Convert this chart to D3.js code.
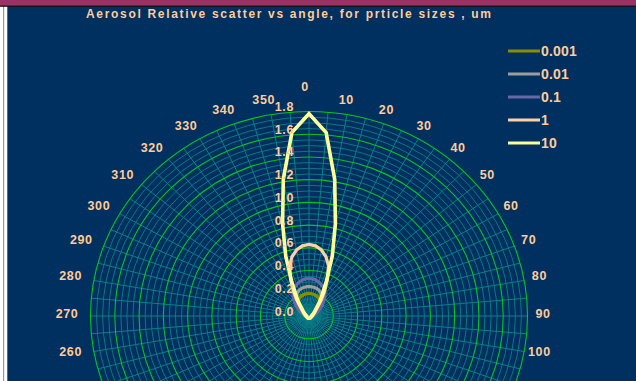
<!DOCTYPE html>
<html>
<head>
<meta charset="utf-8">
<script src="https://cdn.jsdelivr.net/npm/d3@7"></script>
<style>
  html, body { margin: 0; padding: 0; background: #ffffff; }
  svg { display: block; }
  text { font-family: "Liberation Sans", Arial, sans-serif; }
</style>
</head>
<body>
<svg id="chart" width="636" height="381"></svg>
<script>
// Scattering angle (degrees, 0 = forward) at which each series is sampled
const angles = [0, 5, 10, 15, 20, 25, 30, 35, 40, 50, 60, 70, 80, 90, 100, 120, 140, 160,
                180, 200, 220, 240, 260, 270, 280, 290, 300, 310, 320, 325, 330, 335, 340, 345, 350, 355];

// Relative scatter for each particle size (um)
const size0001 = [0.20, 0.198, 0.195, 0.19, 0.185, 0.178, 0.17, 0.157, 0.14, 0.10, 0.07, 0.04, 0.02, 0.015, 0.012, 0.01, 0.01, 0.01,
                  0.01, 0.01, 0.01, 0.01, 0.012, 0.015, 0.02, 0.04, 0.07, 0.10, 0.14, 0.157, 0.17, 0.178, 0.185, 0.19, 0.195, 0.198];
const size001  = [0.26, 0.258, 0.255, 0.25, 0.24, 0.226, 0.21, 0.19, 0.17, 0.12, 0.08, 0.05, 0.03, 0.02, 0.015, 0.012, 0.012, 0.012,
                  0.012, 0.012, 0.012, 0.012, 0.015, 0.02, 0.03, 0.05, 0.08, 0.12, 0.17, 0.19, 0.21, 0.226, 0.24, 0.25, 0.255, 0.258];
const size01   = [0.33, 0.328, 0.322, 0.31, 0.295, 0.28, 0.26, 0.23, 0.20, 0.14, 0.09, 0.05, 0.03, 0.02, 0.015, 0.012, 0.012, 0.012,
                  0.012, 0.012, 0.012, 0.012, 0.015, 0.02, 0.03, 0.05, 0.09, 0.14, 0.20, 0.23, 0.26, 0.28, 0.295, 0.31, 0.322, 0.328];
const size1    = [0.63, 0.62, 0.59, 0.54, 0.47, 0.36, 0.26, 0.18, 0.12, 0.07, 0.05, 0.04, 0.03, 0.03, 0.025, 0.02, 0.02, 0.02,
                  0.02, 0.02, 0.02, 0.02, 0.025, 0.03, 0.03, 0.04, 0.05, 0.07, 0.12, 0.18, 0.26, 0.36, 0.47, 0.54, 0.59, 0.62];
const size10   = [1.78, 1.62, 1.22, 0.84, 0.56, 0.34, 0.22, 0.15, 0.10, 0.06, 0.04, 0.03, 0.025, 0.02, 0.02, 0.02, 0.02, 0.02,
                  0.02, 0.02, 0.02, 0.02, 0.02, 0.02, 0.025, 0.03, 0.04, 0.06, 0.10, 0.15, 0.22, 0.34, 0.56, 0.84, 1.22, 1.62];

const seriesNames = ["0.001", "0.01", "0.1", "1", "10"];
const seriesValues = [size0001, size001, size01, size1, size10];
const seriesColors = ["#8c8c00", "#9c9c9c", "#6868a8", "#ffcfa8", "#ffff99"];

// Radial axis ticks and angular axis labels
const radialTicks = [0.0, 0.2, 0.4, 0.6, 0.8, 1.0, 1.2, 1.4, 1.6, 1.8];
const angleTicks = d3.range(0, 360, 10);

const titleText = "Aerosol Relative scatter vs angle, for prticle sizes , um";

const svg = d3.select("#chart");
const W = 636, H = 381;
const cx = 309, cy = 316;
const rMax = 1.8;

// The plot is drawn slightly wider than tall, so x and y radii use their own scales
const rx = d3.scaleLinear().domain([0, rMax]).range([0, 218.5]);
const ry = d3.scaleLinear().domain([0, rMax]).range([0, 204.5]);
const toRad = d3.scaleLinear().domain([0, 360]).range([0, 2 * Math.PI]);

const px = (r, a) => cx + rx(r) * Math.sin(toRad(a));
const py = (r, a) => cy - ry(r) * Math.cos(toRad(a));

// Frame: white left strip, maroon top band, navy plot area
svg.append("rect").attr("x", 0).attr("y", 0).attr("width", W).attr("height", H).attr("fill", "#ffffff");
svg.append("rect").attr("x", 3).attr("y", 0).attr("width", 1.2).attr("height", H).attr("fill", "#9a9a9a");
svg.append("rect").attr("x", 7.3).attr("y", 6).attr("width", W).attr("height", H).attr("fill", "#003060");
svg.append("rect").attr("x", 0).attr("y", 0).attr("width", W).attr("height", 5.2).attr("fill", "#993366");
svg.append("rect").attr("x", 0).attr("y", 5.2).attr("width", W).attr("height", 1.6).attr("fill", "#111111");

const plot = svg.append("g");

// Minor rings every 0.05
const minorRings = d3.range(1, 37).map(i => i * 0.05).filter(v => Math.abs(v / 0.2 - Math.round(v / 0.2)) > 1e-6);
plot.append("g").selectAll("ellipse").data(minorRings).join("ellipse")
  .attr("cx", cx).attr("cy", cy)
  .attr("rx", d => rx(d)).attr("ry", d => ry(d))
  .attr("fill", "none").attr("stroke", "#0b7880").attr("stroke-width", 1);

// Spokes every 5 degrees
const spokes = d3.range(0, 360, 5);
plot.append("g").selectAll("line").data(spokes).join("line")
  .attr("x1", cx).attr("y1", cy)
  .attr("x2", d => px(rMax, d)).attr("y2", d => py(rMax, d))
  .attr("stroke", "#0b7f88").attr("stroke-width", 1);

// Major rings every 0.2
plot.append("g").selectAll("ellipse").data(radialTicks.filter(v => v > 0)).join("ellipse")
  .attr("cx", cx).attr("cy", cy)
  .attr("rx", d => rx(d)).attr("ry", d => ry(d))
  .attr("fill", "none").attr("stroke", "#00c81e").attr("stroke-width", 1.1);

// Series curves
const line = d3.line()
  .x((d, i) => px(d, angles[i]))
  .y((d, i) => py(d, angles[i]))
  .curve(d3.curveLinearClosed);

plot.append("g").selectAll("path").data(seriesValues).join("path")
  .attr("d", d => line(d))
  .attr("fill", "none")
  .attr("stroke", (d, i) => seriesColors[i])
  .attr("stroke-width", (d, i) => i === 4 ? 3.6 : 3.2)
  .attr("stroke-linejoin", "miter");

const labelColor = "#ffcc99";

// Radial tick labels along the 0 degree axis
svg.append("g").selectAll("text").data(radialTicks).join("text")
  .attr("x", cx - 15)
  .attr("y", d => cy - ry(d) - 4.5)
  .attr("text-anchor", "end")
  .attr("dominant-baseline", "central")
  .attr("fill", labelColor)
  .attr("font-size", 12.5)
  .attr("font-weight", "bold")
  .attr("letter-spacing", 0.6)
  .text(d => d.toFixed(1));

// Angle labels around the rim (only those that fall inside the window)
const lx = d3.scaleLinear().domain([0, 1]).range([305, 305 + 238]);
const ly = d3.scaleLinear().domain([0, 1]).range([314, 314 - 217]);
const labelY = d => ly(Math.cos(toRad(d))) - (d === 0 ? 10 : 0);
svg.append("g").selectAll("text").data(angleTicks.filter(d => labelY(d) < H - 8)).join("text")
  .attr("x", d => lx(Math.sin(toRad(d))))
  .attr("y", labelY)
  .attr("text-anchor", "middle")
  .attr("dominant-baseline", "central")
  .attr("fill", labelColor)
  .attr("font-size", 12.5)
  .attr("font-weight", "bold")
  .attr("letter-spacing", 0.6)
  .text(d => d);

// Title
svg.append("text")
  .attr("x", 86).attr("y", 18)
  .attr("fill", labelColor)
  .attr("font-size", 12)
  .attr("font-weight", "bold")
  .attr("textLength", 405)
  .attr("lengthAdjust", "spacing")
  .text(titleText);

// Legend
const legend = svg.append("g").selectAll("g").data(seriesNames).join("g")
  .attr("transform", (d, i) => `translate(508, ${51 + i * 23})`);
legend.append("line")
  .attr("x1", 0).attr("x2", 32).attr("y1", 0).attr("y2", 0)
  .attr("stroke", (d, i) => seriesColors[i]).attr("stroke-width", 3);
legend.append("text")
  .attr("x", 33).attr("y", 0)
  .attr("dominant-baseline", "central")
  .attr("fill", labelColor)
  .attr("font-size", 14)
  .attr("font-weight", "bold")
  .attr("letter-spacing", 0.2)
  .text(d => d);
</script>
</body>
</html>
